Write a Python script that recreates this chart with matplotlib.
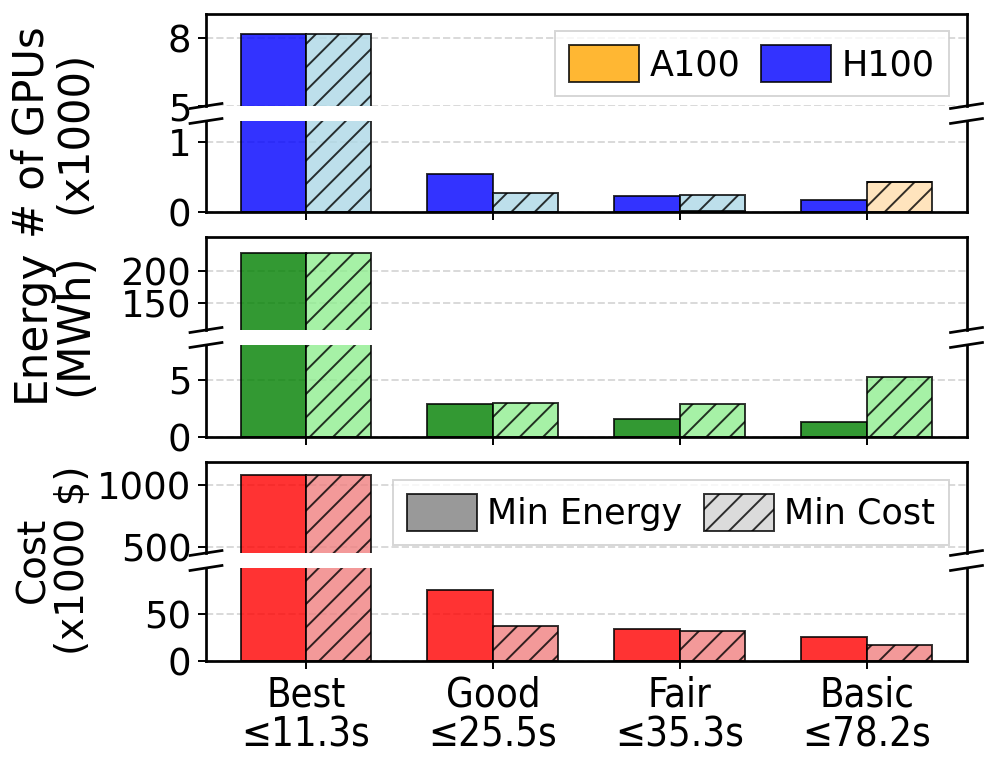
import numpy as np
import matplotlib.pyplot as plt
from matplotlib.patches import Patch

# ---- data ----
tiers = ['Best\n≤11.3s', 'Good\n≤25.5s', 'Fair\n≤35.3s', 'Basic\n≤78.2s']

# number of GPUs (x1000), stacked A100 (bottom) + H100
gpu_energy_a100 = [0, 0, 0, 0]
gpu_energy_h100 = [8.2, 0.54, 0.23, 0.17]
gpu_cost_a100 = [0, 0, 0.02, 0.43]
gpu_cost_h100 = [8.2, 0.27, 0.23, 0]

# energy (MWh)
energy_min_energy = [228, 2.9, 1.57, 1.33]
energy_min_cost = [228, 2.98, 2.87, 5.24]

# cost (x1000 $)
cost_min_energy = [1080, 76, 34.3, 25.4]
cost_min_cost = [1080, 37.5, 32.5, 17.1]

DPI = 140
W, H = 996, 770
x = np.arange(len(tiers))
bw = 0.35

plt.rcParams['font.family'] = ['DejaVu Sans']
plt.rcParams['hatch.linewidth'] = 1.0

fig = plt.figure(figsize=(W / DPI, H / DPI), dpi=DPI)

left, width = 206 / W, 760.5 / W


def add_ax(top_px, bot_px):
    return fig.add_axes([left, 1 - bot_px / H, width, (bot_px - top_px) / H])


pairs = [
    (add_ax(13.5, 106), add_ax(121, 212)),
    (add_ax(237, 330), add_ax(345, 437)),
    (add_ax(462, 553), add_ax(568, 661)),
]

bar_kw = dict(width=bw, edgecolor='black', linewidth=1.0, alpha=0.8)


def draw_gpu(ax):
    ax.bar(x - bw / 2, gpu_energy_a100, color='orange', **bar_kw)
    ax.bar(x - bw / 2, gpu_energy_h100, bottom=gpu_energy_a100, color='blue', **bar_kw)
    ax.bar(x + bw / 2, gpu_cost_a100, color='navajowhite', hatch='//', **bar_kw)
    ax.bar(x + bw / 2, gpu_cost_h100, bottom=gpu_cost_a100, color='lightblue', hatch='//', **bar_kw)


def draw_energy(ax):
    ax.bar(x - bw / 2, energy_min_energy, color='green', **bar_kw)
    ax.bar(x + bw / 2, energy_min_cost, color='lightgreen', hatch='//', **bar_kw)


def draw_cost(ax):
    ax.bar(x - bw / 2, cost_min_energy, color='red', **bar_kw)
    ax.bar(x + bw / 2, cost_min_cost, color='lightcoral', hatch='//', **bar_kw)


settings = [
    (draw_gpu, (5, 9.11), [5, 8], (0, 1.3), [0, 1]),
    (draw_energy, (108, 252), [150, 200], (0, 8), [0, 5]),
    (draw_cost, (454, 1185), [500, 1000], (0, 99.6), [0, 50]),
]

for (ax_t, ax_b), (fn, tlim, tticks, blim, bticks) in zip(pairs, settings):
    for ax in (ax_t, ax_b):
        fn(ax)
        ax.set_axisbelow(True)
        ax.grid(axis='y', linestyle='--', color='0.85', linewidth=1.0)
        ax.tick_params(axis='y', labelsize=19, width=1.0, length=4)
        ax.tick_params(axis='x', width=1.0, length=4)
        for s in ax.spines.values():
            s.set_linewidth(1.4)
        ax.set_xticks(x)
    ax_t.set_ylim(*tlim)
    ax_t.set_yticks(tticks)
    ax_b.set_ylim(*blim)
    ax_b.set_yticks(bticks)
    ax_t.spines['bottom'].set_visible(False)
    ax_b.spines['top'].set_visible(False)
    ax_t.tick_params(axis='x', bottom=False, labelbottom=False)
    ax_b.tick_params(axis='x', labelbottom=False)

    # break marks
    dx, dy = 0.021, 0.027
    kw = dict(color='k', clip_on=False, linewidth=1.4)
    for xx in (0, 1):
        ax_t.plot((xx - dx, xx + dx), (-dy, dy), transform=ax_t.transAxes, **kw)
        ax_b.plot((xx - dx, xx + dx), (1 - dy, 1 + dy), transform=ax_b.transAxes, **kw)

# x tick labels on the last axis
ax_last = pairs[2][1]
ax_last.tick_params(axis='x', labelbottom=True)
ax_last.set_xticklabels(tiers, fontsize=20.5, fontstretch='condensed', linespacing=1.0)

# legends
leg_kw = dict(loc='upper right', ncol=2, fontsize=18, handleheight=1.25, handlelength=2.0,
              handletextpad=0.3, columnspacing=0.6, fancybox=False)
gpu_handles = [
    Patch(facecolor='orange', edgecolor='black', alpha=0.8, label='A100'),
    Patch(facecolor='blue', edgecolor='black', alpha=0.8, label='H100'),
]
pairs[0][0].legend(handles=gpu_handles, **leg_kw)
opt_handles = [
    Patch(facecolor='gray', edgecolor='black', alpha=0.8, label='Min Energy'),
    Patch(facecolor='lightgray', edgecolor='black', alpha=0.8, hatch='//', label='Min Cost'),
]
pairs[2][0].legend(handles=opt_handles, **leg_kw)

# y labels
lab_kw = dict(rotation=90, ha='center', va='center', multialignment='center')
fig.text(53 / W, 1 - 132 / H, '# of GPUs\n(x1000)', fontsize=21.5, linespacing=1.0, **lab_kw)
fig.text(53 / W, 1 - 325 / H, 'Energy\n(MWh)', fontsize=22.5, linespacing=1.0, **lab_kw)
fig.text(53 / W, 1 - 560 / H, 'Cost\n(x1000 $)', fontsize=20, linespacing=1.05, **lab_kw)

fig.savefig('out.png', dpi=DPI)
